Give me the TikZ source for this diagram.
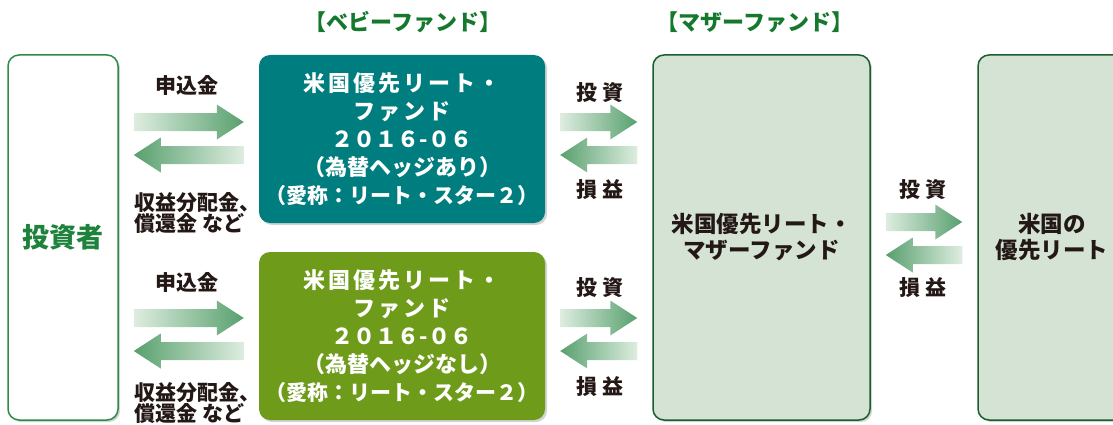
\documentclass[tikz,border=0pt]{standalone}
\usepackage{fontspec}
\setmainfont{Noto Sans CJK JP}
\usetikzlibrary{shadows, calc}

\definecolor{babyteal}{RGB}{0,125,127}
\definecolor{babyolive}{RGB}{110,155,25}
\definecolor{motherfill}{RGB}{213,227,213}
\definecolor{motherline}{RGB}{25,95,45}
\definecolor{invline}{RGB}{45,140,70}
\definecolor{invtext}{RGB}{30,130,60}
\definecolor{titlegreen}{RGB}{20,120,45}
\definecolor{labeltext}{RGB}{35,24,21}
\definecolor{arrowlight}{RGB}{222,237,224}
\definecolor{arrowdark}{RGB}{88,160,110}

\newcommand{\widetext}[1]{{\addfontfeatures{LetterSpace=14}#1}}

% two fat arrows between a left and a right box
\newcommand{\fatpair}[3]{%
  \shade[fwd] let \p1=(#1.east), \p2=(#2.west), \p3=(0,#3) in
    (\x1+15pt,\y3+9pt) -- (\x2-42pt,\y3+9pt) -- (\x2-42pt,\y3+17.5pt)
    -- (\x2-15pt,\y3) -- (\x2-42pt,\y3-17.5pt) -- (\x2-42pt,\y3-9pt)
    -- (\x1+15pt,\y3-9pt) -- cycle;
  \shade[back] let \p1=(#1.east), \p2=(#2.west), \p3=(0,#3-33) in
    (\x2-15pt,\y3+9pt) -- (\x1+42pt,\y3+9pt) -- (\x1+42pt,\y3+17.5pt)
    -- (\x1+15pt,\y3) -- (\x1+42pt,\y3-17.5pt) -- (\x1+42pt,\y3-9pt)
    -- (\x2-15pt,\y3-9pt) -- cycle;}

\begin{document}
\begin{tikzpicture}[x=1pt, y=1pt,
  box/.style={rounded corners=11pt, align=center, inner sep=0pt,
    drop shadow={shadow xshift=2pt, shadow yshift=-2pt, opacity=.35}},
  fundtext/.style={font=\fontsize{22}{28}\selectfont\bfseries},
  fwd/.style={left color=arrowlight, right color=arrowdark},
  back/.style={left color=arrowdark, right color=arrowlight},
  lbl/.style={text=labeltext, font=\fontsize{21}{21}\selectfont\bfseries},
  title/.style={text=titlegreen, font=\fontsize{22}{22}\selectfont\bfseries}]

\useasboundingbox (0,0) rectangle (1113,424);

\node[title] (babytitle) at (403,402) {【ベビーファンド】};
\node[title] (mothertitle) at (755,402) {【マザーファンド】};

\node[box, draw=invline, line width=1.5pt, fill=white, text=invtext,
      minimum width=110pt, minimum height=365pt,
      font=\fontsize{27}{30}\selectfont\bfseries] (inv) at (63,186.5) {投資者};
\node[box, fundtext, fill=babyteal, text=white,
      minimum width=286pt, minimum height=168pt] (babyA) at (402,285)
      {\widetext{米国優先リート・}\\\widetext{ファンド}\\２０１６-０６\\（為替ヘッジあり）\\{\fontsize{21}{28}\selectfont（愛称：リート・スター２）}};
\node[box, fundtext, fill=babyolive, text=white,
      minimum width=286pt, minimum height=168pt] (babyB) at (402,88)
      {\widetext{米国優先リート・}\\\widetext{ファンド}\\２０１６-０６\\（為替ヘッジなし）\\{\fontsize{21}{28}\selectfont（愛称：リート・スター２）}};
\node[box, fill=motherfill, draw=motherline, line width=1.5pt, text=labeltext,
      minimum width=217pt, minimum height=365pt,
      font=\fontsize{22.5}{26}\selectfont\bfseries] (mother) at (761.5,186.5)
      {米国優先リート・\\マザーファンド};
\node[box, fill=motherfill, draw=motherline, line width=1.5pt, text=labeltext,
      minimum width=148pt, minimum height=365pt,
      font=\fontsize{22.5}{26}\selectfont\bfseries] (reit) at (1052,186.5)
      {米国の\\優先リート};

\fatpair{inv}{babyA}{302}
\fatpair{inv}{babyB}{106}
\fatpair{babyA}{mother}{302}
\fatpair{babyB}{mother}{106}
\fatpair{mother}{reit}{202}

\node[lbl] (applyA) at (187,339) {申込金};
\node[lbl, align=left, anchor=west] (payA) at (131,211) {収益分配金、\\償還金 など};
\node[lbl] (applyB) at (187,142) {申込金};
\node[lbl, align=left, anchor=west] (payB) at (131,21) {収益分配金、\\償還金 など};
\node[lbl] (investA) at (600,331) {投 資};
\node[lbl] (profitA) at (600,234) {損 益};
\node[lbl] (investB) at (600,136) {投 資};
\node[lbl] (profitB) at (600,37) {損 益};
\node[lbl] (investM) at (923,234) {投 資};
\node[lbl] (profitM) at (923,136) {損 益};

\end{tikzpicture}
\end{document}
